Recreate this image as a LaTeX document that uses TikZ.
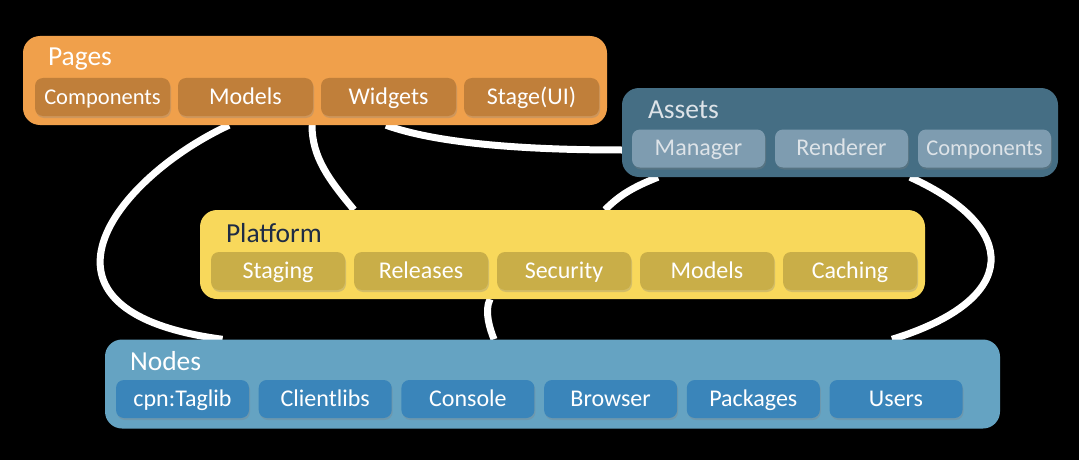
\documentclass[tikz,border=0pt]{standalone}
\usepackage{fontspec}
\setmainfont{Carlito}
\usetikzlibrary{backgrounds,shadows}

\definecolor{pagesfill}{HTML}{F0A04B}
\definecolor{pagessub}{HTML}{C07F3A}
\definecolor{assetsfill}{HTML}{456E84}
\definecolor{assetssub}{HTML}{7E9CB0}
\definecolor{assetstext}{HTML}{DDE3E8}
\definecolor{platfill}{HTML}{F8D85B}
\definecolor{platsub}{HTML}{C9AE48}
\definecolor{plattext}{HTML}{1E2B45}
\definecolor{nodesfill}{HTML}{65A3C2}
\definecolor{nodessub}{HTML}{3A85BA}

\tikzset{
  group/.style={rounded corners=17pt, minimum height=89pt, inner sep=0pt},
  grouptitle/.style={anchor=west, inner sep=0pt, font=\fontsize{27.5}{30}\selectfont},
  sub/.style={rounded corners=8pt, minimum width=133pt, minimum height=38pt,
    inner sep=0pt, text=white, text height=18pt, text depth=4pt,
    font=\fontsize{24}{26}\selectfont,
    drop shadow={shadow xshift=1pt, shadow yshift=-2pt, opacity=0.3}},
  link/.style={white, line width=7pt}
}

\begin{document}
\begin{tikzpicture}[x=1pt,y=-1pt]
\useasboundingbox (0,0) rectangle (1079,460);

% the four groups
\node[group, fill=pagesfill, minimum width=584pt] (pages) at (315,80.5) {};
\node[group, fill=assetsfill, minimum width=436pt] (assets) at (840,132.5) {};
\node[group, fill=platfill, minimum width=725pt] (platform) at (562.5,254.5) {};
\node[group, fill=nodesfill, minimum width=895pt] (nodes) at (552.5,384) {};

\node[grouptitle, text=white] (pagest) at ([xshift=25pt,yshift=-23pt]pages.north west) {Pages};
\node[grouptitle, text=assetstext] (assetst) at ([xshift=26pt,yshift=-22pt]assets.north west) {Assets};
\node[grouptitle, text=plattext] (platformt) at ([xshift=26pt,yshift=-23pt]platform.north west) {Platform};
\node[grouptitle, text=white] (nodest) at ([xshift=25pt,yshift=-22pt]nodes.north west) {Nodes};

% the parts in each group
\foreach \t [count=\i] in {{\fontsize{22.5}{24}\selectfont Components},Models,Widgets,Stage(UI)}
  \node[sub, fill=pagessub, minimum width=135pt] (pg\i) at (102.5+143*\i-143,97) {\t};
\foreach \t [count=\i] in {Manager,Renderer,{\fontsize{22.5}{24}\selectfont Components}}
  \node[sub, fill=assetssub, text=assetstext] (as\i) at (698.5+143*\i-143,148.5) {\t};
\foreach \t [count=\i] in {Staging,Releases,Security,Models,Caching}
  \node[sub, fill=platsub, minimum width=134pt] (pf\i) at (278+143*\i-143,271) {\t};
\foreach \t [count=\i] in {cpn:Taglib,Clientlibs,Console,Browser,Packages,Users}
  \node[sub, fill=nodessub] (nd\i) at (182.5+142.7*\i-142.7,399) {\t};

% links, under the boxes
\begin{scope}[on background layer]
\fill[black] (0,0) rectangle (1079,460);
\draw[link] ([xshift=-86pt]pages.south) .. controls +(-114,53) and +(-212,-28) .. ([xshift=-330pt]nodes.north);
\draw[link] ([xshift=-3pt]pages.south) .. controls +(0,32) and +(-25,-30) .. ([xshift=-208.5pt]platform.north);
\draw[link] ([xshift=71pt]pages.south) .. controls +(50,18) and +(-100,0) .. ([yshift=-17.5pt]assets.west);
\draw[link] ([xshift=-182pt]assets.south) .. controls +(-25,10) and +(15,-15) .. ([xshift=42.5pt]platform.north);
\draw[link] ([xshift=-72.5pt]platform.south) .. controls +(-6,12) and +(-4,-10) .. ([xshift=-58.5pt]nodes.north);
\draw[link] ([xshift=70pt]assets.south) .. controls +(110,50) and +(130,-40) .. ([xshift=339.5pt]nodes.north);
\end{scope}
\end{tikzpicture}
\end{document}
